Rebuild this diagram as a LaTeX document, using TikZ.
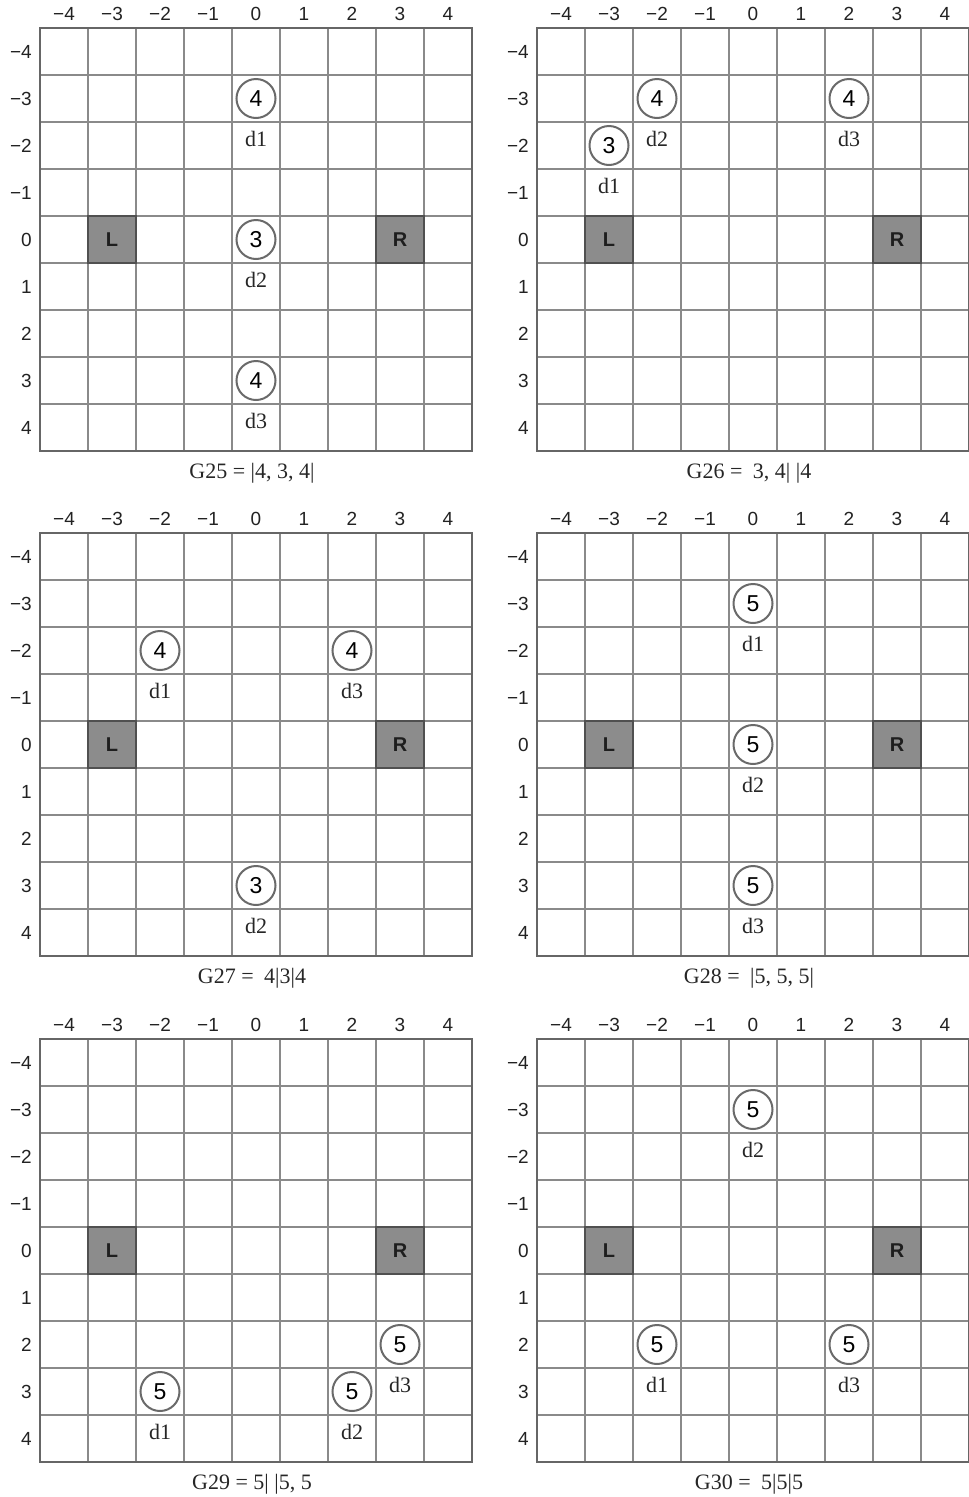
\documentclass[tikz,border=0pt]{standalone}
\usepackage{fontspec}
\setmainfont{Liberation Serif}
\setsansfont{Liberation Sans}
\definecolor{gridgray}{HTML}{8A8A8A}
\definecolor{framegray}{HTML}{666666}
\definecolor{tokgray}{HTML}{6A6A6A}
\definecolor{agentfill}{HTML}{8C8C8C}
\definecolor{agentborder}{HTML}{505050}
\definecolor{agenttext}{HTML}{1E1E1E}
\definecolor{axistext}{HTML}{222222}
\tikzset{
  gline/.style={draw=gridgray, line width=1.7pt},
  gframe/.style={draw=framegray, line width=2.8pt},
  token/.style={circle, draw=tokgray, line width=2pt, fill=white, minimum size=39pt, inner sep=0pt, font=\sffamily\fontsize{23}{23}\selectfont},
  agent/.style={rectangle, draw=agentborder, fill=agentfill, line width=1.2pt, minimum width=48pt, minimum height=47pt, inner sep=0pt, font=\sffamily\bfseries\fontsize{20}{20}\selectfont, text=agenttext},
  dlab/.style={font=\fontsize{22}{22}\selectfont, inner sep=0pt, text=black!85},
  axlab/.style={font=\sffamily\fontsize{19}{19}\selectfont, inner sep=0pt, text=axistext},
  capt/.style={font=\fontsize{22}{22}\selectfont, inner sep=0pt, text=black!85},
}
\newcommand\gpanel[5]{%
\begin{scope}[shift={(#2,#3)},x=48pt,y=-47pt]
  \foreach \k in {-3.5,-2.5,...,3.5}{
    \draw[gline] (\k,-4.5) -- (\k,4.5);
    \draw[gline] (-4.5,\k) -- (4.5,\k);
  }
  \draw[gframe] (-4.5,-4.5) rectangle (4.5,4.5);
  \foreach \c/\t in {-4/−4,-3/−3,-2/−2,-1/−1,0/0,1/1,2/2,3/3,4/4}{
    \node[axlab, yshift=14pt] (#1top\c) at (\c,-4.5) {\t};
    \node[axlab, anchor=east, xshift=-8pt] (#1left\c) at (-4.5,\c) {\t};
  }
  \node[agent] (#1L) at (-3,0) {L};
  \node[agent] (#1R) at (3,0) {R};
  \node[capt, yshift=-22pt, xshift=-4pt] (#1cap) at (0,4.5) {#4};
  #5
\end{scope}}
\newcommand\tok[5]{%
  \node[token] (#1) at (#2,#3) {#4};
  \node[dlab, yshift=-40pt] (#1lab) at (#2,#3) {#5};
}
\begin{document}
\begin{tikzpicture}[x=1pt,y=-1pt]
\useasboundingbox (0,0) rectangle (969,1497);
\gpanel{a}{256}{239.5}{G25 = |4, 3, 4|}{%
  \tok{a1}{0}{-3}{4}{d1}\tok{a2}{0}{0}{3}{d2}\tok{a3}{0}{3}{4}{d3}}
\gpanel{b}{753}{239.5}{G26 = \hspace{5pt}3, 4| |4}{%
  \tok{b1}{-3}{-2}{3}{d1}\tok{b2}{-2}{-3}{4}{d2}\tok{b3}{2}{-3}{4}{d3}}
\gpanel{c}{256}{744.5}{G27 = \hspace{5pt}4|3|4}{%
  \tok{c1}{-2}{-2}{4}{d1}\tok{c2}{0}{3}{3}{d2}\tok{c3}{2}{-2}{4}{d3}}
\gpanel{d}{753}{744.5}{G28 = \hspace{5pt}|5, 5, 5|}{%
  \tok{d1}{0}{-3}{5}{d1}\tok{d2}{0}{0}{5}{d2}\tok{d3}{0}{3}{5}{d3}}
\gpanel{e}{256}{1250.5}{G29 = 5| |5, 5}{%
  \tok{e1}{-2}{3}{5}{d1}\tok{e2}{2}{3}{5}{d2}\tok{e3}{3}{2}{5}{d3}}
\gpanel{f}{753}{1250.5}{G30 = \hspace{5pt}5|5|5}{%
  \tok{f1}{-2}{2}{5}{d1}\tok{f2}{0}{-3}{5}{d2}\tok{f3}{2}{2}{5}{d3}}
\end{tikzpicture}
\end{document}
